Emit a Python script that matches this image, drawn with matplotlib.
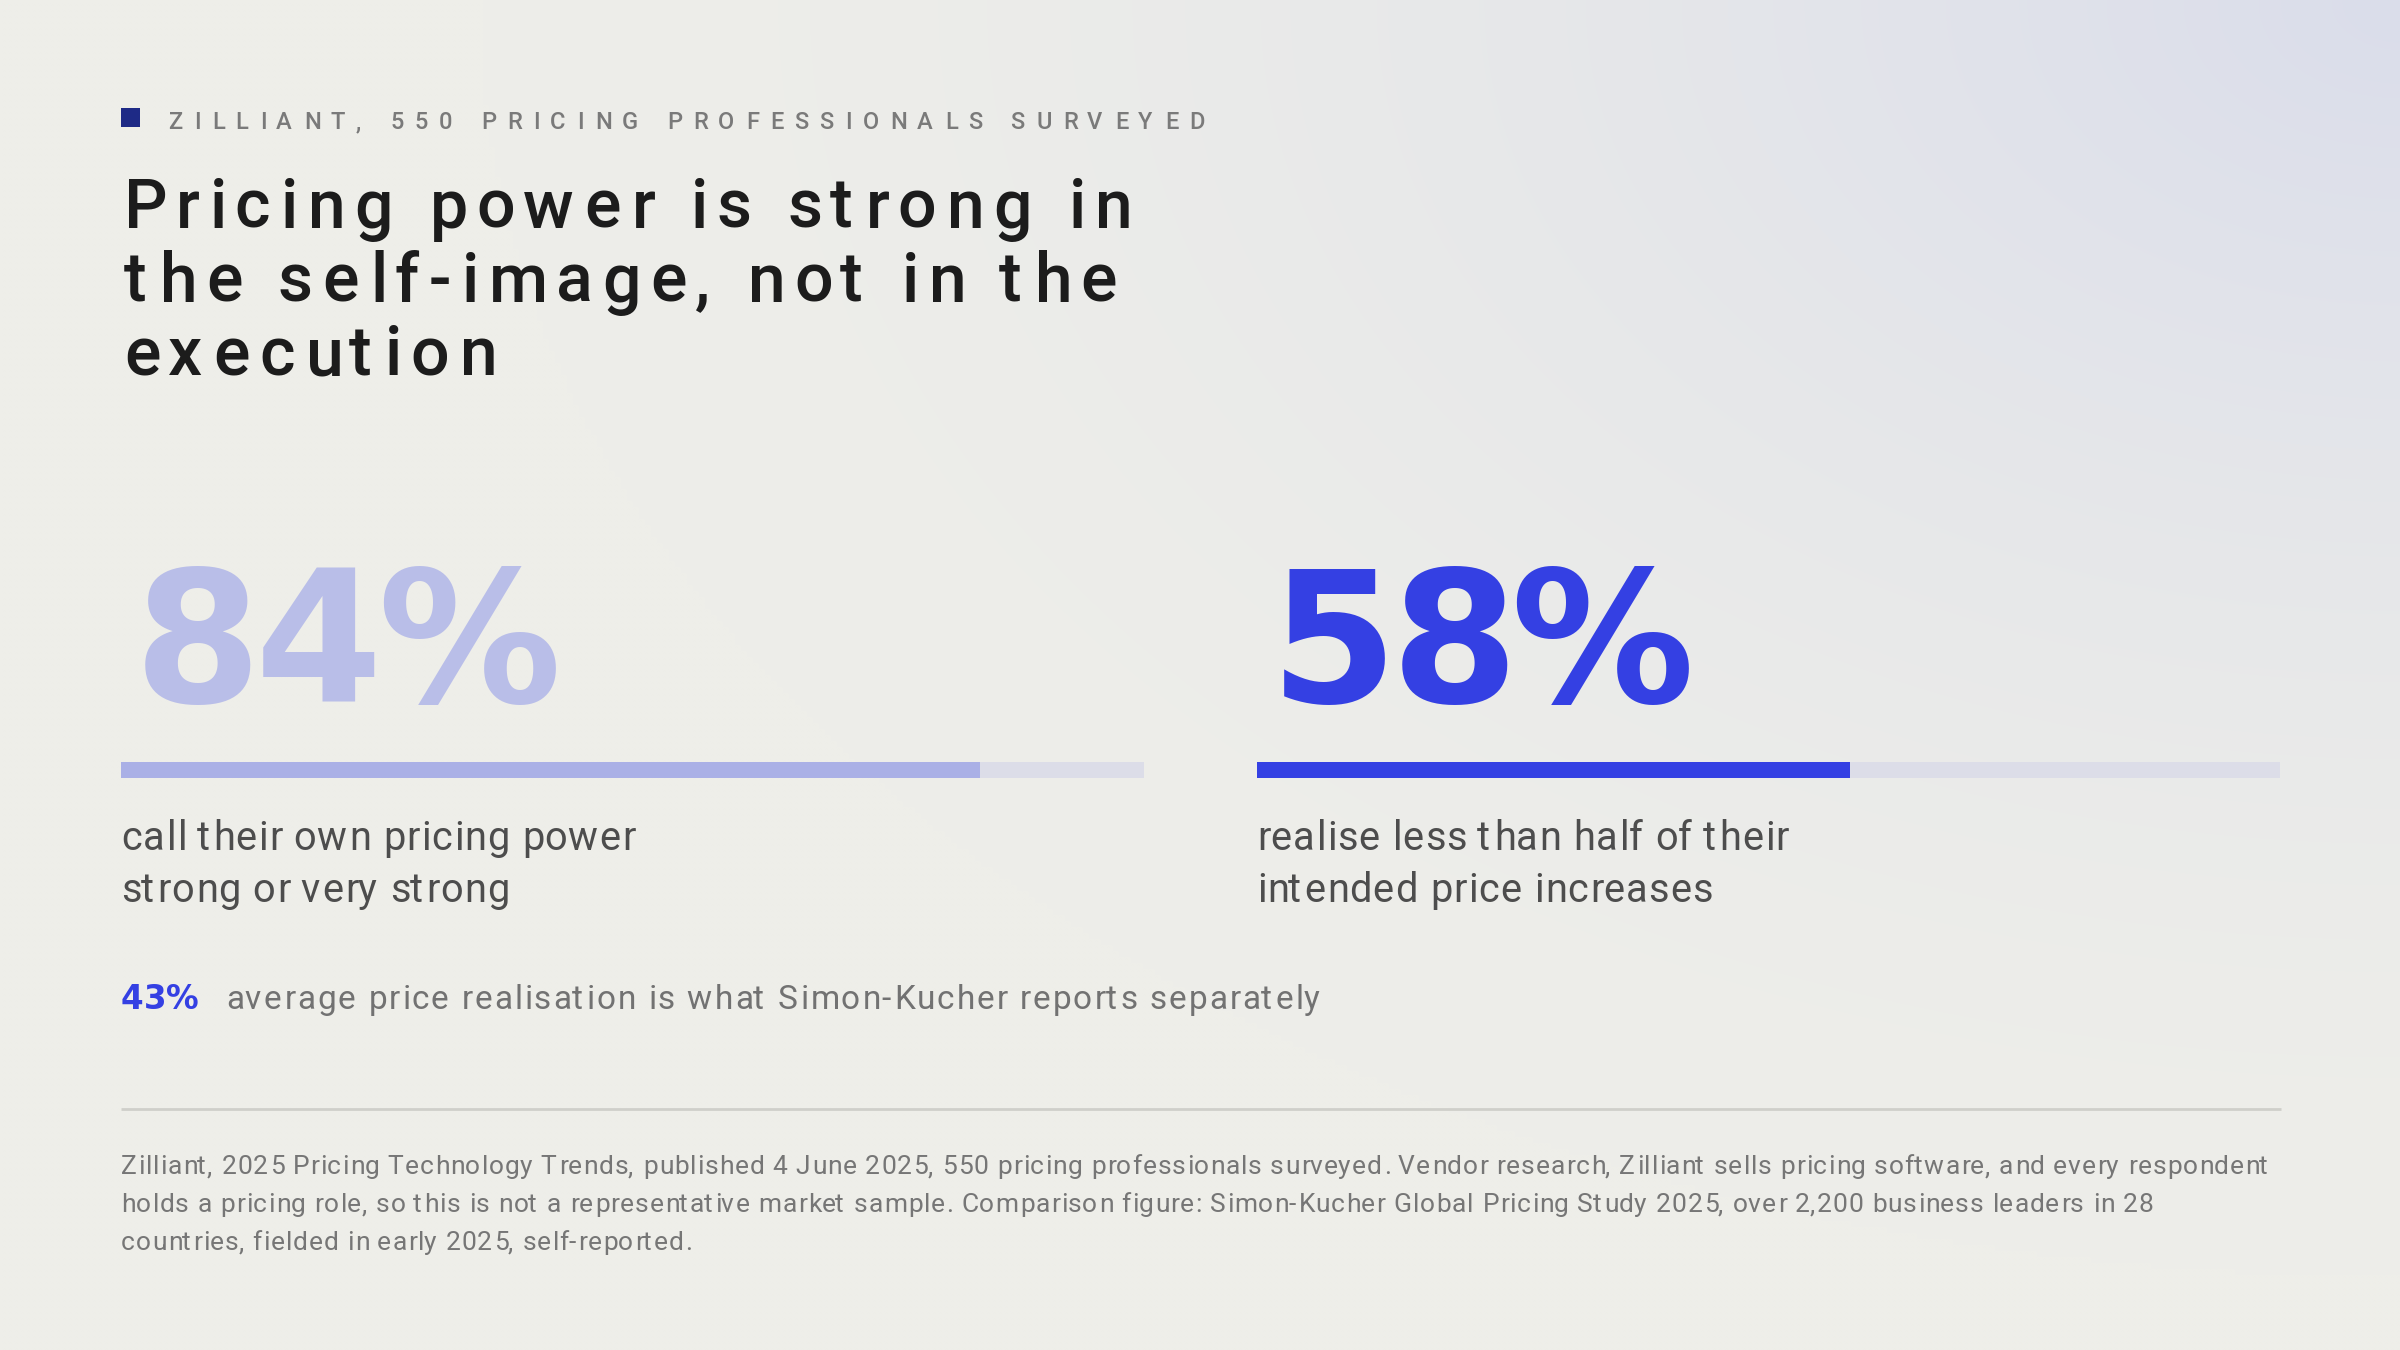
import numpy as np
import matplotlib
matplotlib.use("Agg")
import matplotlib.pyplot as plt
from matplotlib.patches import Rectangle
from matplotlib.font_manager import FontProperties, findfont
from matplotlib.ft2font import FT2Font, LoadFlags

W, H, DPI = 2400, 1350, 100

# --- content -------------------------------------------------------------
kicker = "ZILLIANT, 550 PRICING PROFESSIONALS SURVEYED"
title_lines = ["Pricing power is strong in",
               "the self-image, not in the",
               "execution"]
stat_values = [84, 58]
stat_colors = ["#b9bee8", "#3440e3"]
bar_colors = ["#aab0e6", "#3440e3"]
stat_captions = [["call their own pricing power", "strong or very strong"],
                 ["realise less than half of their", "intended price increases"]]
compare_value = 43
compare_text = "average price realisation is what Simon-Kucher reports separately"
source_lines = [
    "Zilliant, 2025 Pricing Technology Trends, published 4 June 2025, 550 pricing professionals surveyed. "
    "Vendor research, Zilliant sells pricing software, and every respondent",
    "holds a pricing role, so this is not a representative market sample. Comparison figure: "
    "Simon-Kucher Global Pricing Study 2025, over 2,200 business leaders in 28",
    "countries, fielded in early 2025, self-reported.",
]

_fonts = {}


def glyphs(s, family, weight, size):
    key = (family, weight)
    if key not in _fonts:
        _fonts[key] = FT2Font(findfont(FontProperties(family=family, weight=weight)))
    f = _fonts[key]
    f.set_size(size, DPI)
    out = []
    for ch in s:
        g = f.load_char(ord(ch), flags=LoadFlags.NO_HINTING)
        out.append((g.linearHoriAdvance / 65536, g.horiBearingX / 64))
    return out


def tracked(ax, x, y, s, size, color, family="Roboto", weight="normal",
            track=0.0, width=None):
    # draw text char by char so letter spacing can be set; x is the ink left edge
    g = glyphs(s, family, weight, size)
    if width is not None:
        track = (width - sum(a for a, _ in g)) / max(len(s) - 1, 1)
    pos = x - g[0][1]
    for ch, (adv, bx) in zip(s, g):
        if ch != " ":
            ax.text(pos + bx, y, ch, fontsize=size, color=color, family=family,
                    weight=weight, va="baseline", ha="left")
        pos += adv + track
    return track


fig = plt.figure(figsize=(W / DPI, H / DPI), dpi=DPI)
ax = fig.add_axes([0, 0, 1, 1])
ax.set_xlim(0, W)
ax.set_ylim(H, 0)
ax.axis("off")

# background: warm off-white with a cool glow at the top right
yy, xx = np.mgrid[0:H:6, 0:W:6]
d = np.hypot((W - xx) / W, yy / H * 0.85)
wgt = np.clip(1 - d / 0.8, 0, 1) ** 1.6
base = np.array([238, 238, 233]) / 255
tint = np.array([218, 221, 235]) / 255
bg = base + (tint - base) * wgt[..., None]
ax.imshow(bg, extent=[0, W, H, 0], aspect="auto", zorder=0, interpolation="bilinear")

NUM = "DejaVu Sans"

# kicker
ax.add_patch(Rectangle((121, 108), 19, 19, color="#1e2a86", lw=0))
tracked(ax, 168, 129, kicker, 17, "#7a7a7a", weight="medium", width=1036)

# title
tt = None
for i, line in enumerate(title_lines):
    if tt is None:
        tt = tracked(ax, 124, 228, line, 49, "#1c1c1c", weight="medium", width=1010)
    else:
        tracked(ax, 124, 228 + i * 73.5, line, 49, "#1c1c1c", weight="medium", track=tt)

# stats
cols_x = [121, 1257]
bar_w = 1023
nt = None
ct = None
for x0, v, c, bc, cap in zip(cols_x, stat_values, stat_colors, bar_colors, stat_captions):
    label = f"{v}%"
    if nt is None:
        nt = tracked(ax, x0 + 13, 702, label, 132, c, family=NUM, weight="bold", width=432)
    else:
        tracked(ax, x0 + 13, 702, label, 132, c, family=NUM, weight="bold", track=nt)

    bax = fig.add_axes([x0 / W, 1 - 778 / H, bar_w / W, 16 / H])
    bax.barh(0, 100, height=1, color="#dcdde8", lw=0)
    bax.barh(0, v, height=1, color=bc, lw=0)
    bax.set_xlim(0, 100)
    bax.set_ylim(-0.5, 0.5)
    bax.axis("off")

    for j, line in enumerate(cap):
        if ct is None:
            ct = tracked(ax, x0, 850, line, 28.6, "#4d4d4d", width=514)
        else:
            tracked(ax, x0, 850 + j * 52, line, 28.6, "#4d4d4d", track=ct)

# comparison line
tracked(ax, 121, 1009, f"{compare_value}%", 23.5, "#3440e3", family=NUM,
        weight="bold", width=78)
tracked(ax, 226, 1009, compare_text, 24, "#727272", width=1095)

# separator + source note
ax.plot([121, 2281], [1109, 1109], color="#cfcfca", lw=2, solid_capstyle="butt")
st = None
for k, line in enumerate(source_lines):
    if st is None:
        st = tracked(ax, 121, 1174, line, 19, "#767676", width=2148)
    else:
        tracked(ax, 121, 1174 + k * 38, line, 19, "#767676", track=st)

fig.savefig("out.png", dpi=DPI)
